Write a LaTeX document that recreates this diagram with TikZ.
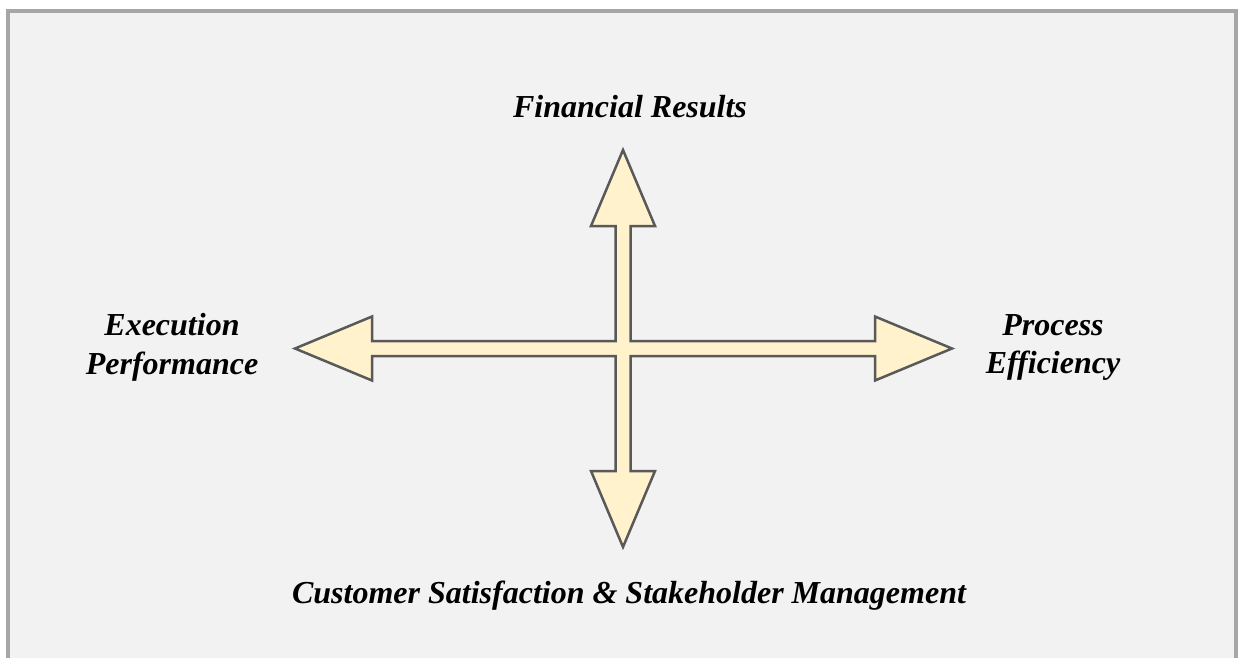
\documentclass[tikz,border=0pt]{standalone}
\usepackage{fontspec}
\setmainfont{Liberation Serif}
\definecolor{bgc}{HTML}{F2F2F2}
\definecolor{framec}{HTML}{A6A6A6}
\definecolor{arrowfill}{HTML}{FFF2CC}
\definecolor{arrowline}{HTML}{595959}
\begin{document}
\begin{tikzpicture}[x=1pt,y=-1pt,
  lbl/.style={font=\fontsize{32}{38}\selectfont\bfseries\itshape, inner sep=0pt, anchor=base, text=black},
  crossarrow/.style={fill=arrowfill, draw=arrowline, line width=2.5pt, line join=miter}]
\useasboundingbox (0,0) rectangle (1239,657);
\fill[white] (0,0) rectangle (1239,657);
\fill[bgc] (8,11) rectangle (1236,680);
\draw[framec, line width=4pt] (8,680) -- (8,11) -- (1236,11) -- (1236,680);
% four-way arrow
\coordinate (c) at (623,348.5);
\draw[crossarrow]
  (623,150) -- (655,226) -- (630.5,226) -- (630.5,341) -- (875,341) -- (875,316.5)
  -- (952,348.5) -- (875,380.5) -- (875,356) -- (630.5,356) -- (630.5,471)
  -- (655,471) -- (623,547) -- (591,471) -- (615.5,471) -- (615.5,356)
  -- (372,356) -- (372,380.5) -- (295,348.5) -- (372,316.5) -- (372,341)
  -- (615.5,341) -- (615.5,226) -- (591,226) -- cycle;
% labels
\node[lbl] (fin) at (630,117) {Financial Results};
\node[lbl] (exec1) at (172,335) {Execution};
\node[lbl] (exec2) at (172,374) {Performance};
\node[lbl] (proc1) at (1053,335) {Process};
\node[lbl] (proc2) at (1053,373) {Efficiency};
\node[lbl] (cust) at (629,603) {Customer Satisfaction \& Stakeholder Management};
\end{tikzpicture}
\end{document}
